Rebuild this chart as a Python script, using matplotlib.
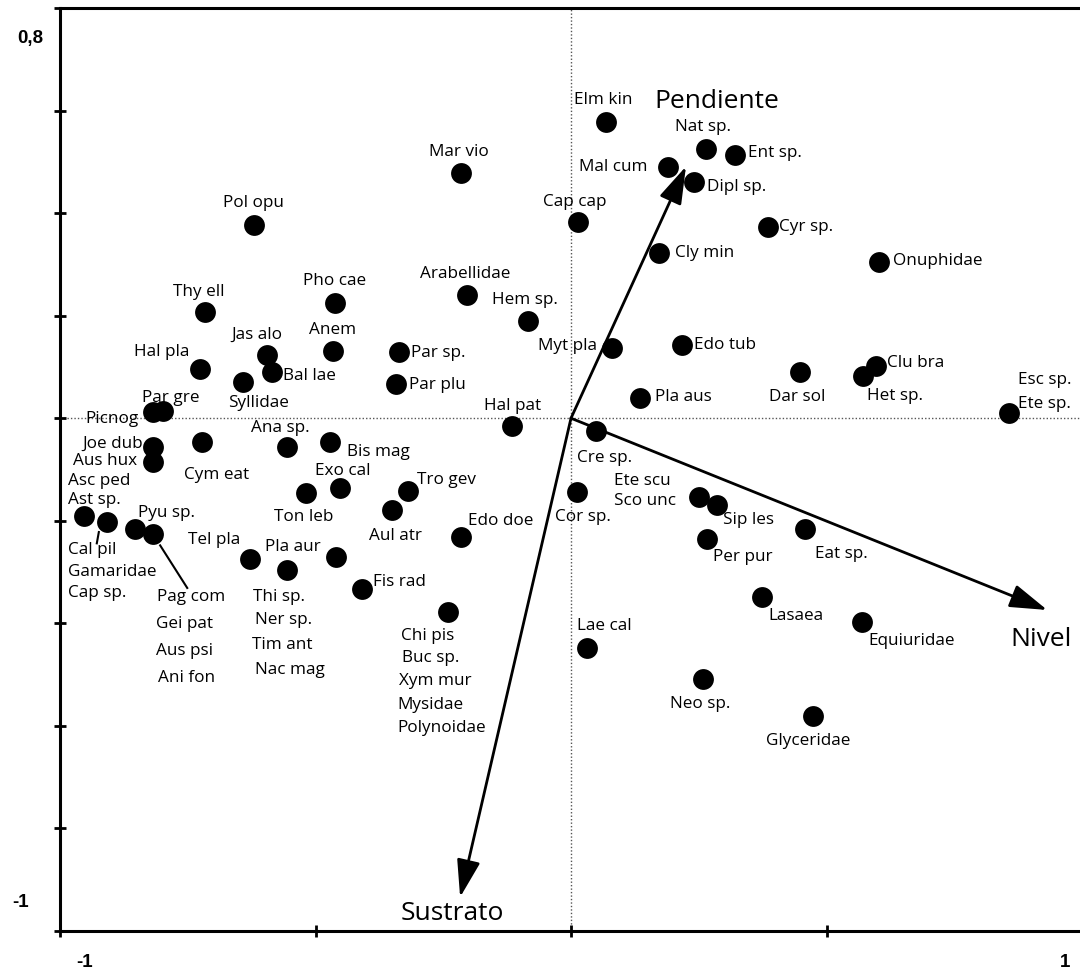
import matplotlib
matplotlib.use('Agg')
import matplotlib.pyplot as plt

# Puntos de especies (coordenadas del análisis)
esp_x = [-0.620, -0.716, -0.462, -0.215, -0.204, -0.084, -0.595, -0.585, -0.642, -0.466,
         -0.337, -0.342, -0.115, -0.726, -0.798, -0.818, -0.818, -0.818, -0.722, -0.953,
         -0.908, -0.853, -0.818, -0.556, -0.472, -0.452, -0.519, -0.628, -0.556, -0.460,
         -0.409, -0.319, -0.350, -0.215, -0.241, 0.049, 0.012, 0.031, 0.250, 0.286,
         0.266, 0.458, 0.374, 0.569, 0.258, 0.474, 0.135, 0.068, 0.264, 0.321,
         0.190, 0.241, 0.014, 0.386, 0.172, 0.603, 0.080, 0.217, 0.448, 0.597,
         0.571, 0.857]
esp_y = [0.376, 0.207, 0.224, 0.478, 0.240, 0.189, 0.123, 0.090, 0.070, 0.131,
         0.129, 0.066, -0.016, 0.096, 0.014, 0.012, -0.057, -0.086, -0.047, -0.191,
         -0.203, -0.216, -0.226, -0.057, -0.047, -0.136, -0.146, -0.275, -0.296, -0.271,
         -0.333, -0.142, -0.179, -0.232, -0.378, -0.025, -0.144, -0.448, -0.154, -0.170,
         -0.236, -0.216, -0.349, -0.398, -0.509, -0.581, 0.039, 0.577, 0.526, 0.513,
         0.489, 0.460, 0.382, 0.372, 0.322, 0.304, 0.136, 0.142, 0.090, 0.101,
         0.082, 0.010]

# Variables ambientales (vectores)
var_nombres = ['Pendiente', 'Nivel', 'Sustrato']
var_x = [0.225, 0.932, -0.217]
var_y = [0.491, -0.374, -0.934]

# Etiquetas: texto, x, y, alineación
etiquetas = [
    ('Pol opu', -0.622, 0.419, 'center'), ('Thy ell', -0.728, 0.246, 'center'),
    ('Pho cae', -0.462, 0.267, 'center'), ('Mar vio', -0.219, 0.519, 'center'),
    ('Arabellidae', -0.207, 0.281, 'center'), ('Hem sp.', -0.090, 0.230, 'center'),
    ('Jas alo', -0.614, 0.162, 'center'), ('Bal lae', -0.564, 0.082, 'left'),
    ('Syllidae', -0.611, 0.029, 'center'), ('Anem', -0.466, 0.173, 'center'),
    ('Par sp.', -0.313, 0.127, 'left'), ('Par plu', -0.317, 0.064, 'left'),
    ('Hal pat', -0.115, 0.023, 'center'), ('Hal pla', -0.746, 0.129, 'right'),
    ('Par gre', -0.783, 0.039, 'center'), ('Picnog', -0.847, -0.002, 'right'),
    ('Joe dub', -0.838, -0.049, 'right'), ('Aus hux', -0.849, -0.084, 'right'),
    ('Cym eat', -0.693, -0.111, 'center'), ('Asc ped', -0.984, -0.123, 'left'),
    ('Ast sp.', -0.984, -0.160, 'left'), ('Cal pil', -0.984, -0.257, 'left'),
    ('Gamaridae', -0.984, -0.300, 'left'), ('Cap sp.', -0.984, -0.341, 'left'),
    ('Pyu sp.', -0.847, -0.185, 'left'), ('Pag com', -0.810, -0.349, 'left'),
    ('Gei pat', -0.812, -0.402, 'left'), ('Aus psi', -0.812, -0.454, 'left'),
    ('Ani fon', -0.808, -0.507, 'left'), ('Ana sp.', -0.569, -0.019, 'center'),
    ('Bis mag', -0.438, -0.066, 'left'), ('Exo cal', -0.393, -0.103, 'right'),
    ('Ton leb', -0.524, -0.193, 'center'), ('Tel pla', -0.699, -0.238, 'center'),
    ('Pla aur', -0.544, -0.251, 'center'), ('Thi sp.', -0.622, -0.349, 'left'),
    ('Ner sp.', -0.618, -0.394, 'left'), ('Tim ant', -0.624, -0.442, 'left'),
    ('Nac mag', -0.618, -0.491, 'left'), ('Fis rad', -0.387, -0.320, 'left'),
    ('Tro gev', -0.301, -0.121, 'left'), ('Aul atr', -0.344, -0.230, 'center'),
    ('Edo doe', -0.202, -0.201, 'left'), ('Chi pis', -0.333, -0.425, 'left'),
    ('Buc sp.', -0.331, -0.468, 'left'), ('Xym mur', -0.337, -0.513, 'left'),
    ('Mysidae', -0.339, -0.559, 'left'), ('Polynoidae', -0.339, -0.604, 'left'),
    ('Cre sp.', 0.012, -0.078, 'left'), ('Cor sp.', 0.023, -0.193, 'center'),
    ('Lae cal', 0.012, -0.405, 'left'), ('Ete scu', 0.084, -0.123, 'left'),
    ('Sco unc', 0.084, -0.162, 'left'), ('Sip les', 0.297, -0.199, 'left'),
    ('Per pur', 0.278, -0.271, 'left'), ('Eat sp.', 0.477, -0.265, 'left'),
    ('Lasaea', 0.386, -0.386, 'left'), ('Equiuridae', 0.581, -0.435, 'left'),
    ('Neo sp.', 0.252, -0.558, 'center'), ('Glyceridae', 0.464, -0.630, 'center'),
    ('Pla aus', 0.164, 0.041, 'left'), ('Elm kin', 0.063, 0.620, 'center'),
    ('Nat sp.', 0.258, 0.567, 'center'), ('Ent sp.', 0.346, 0.517, 'left'),
    ('Mal cum', 0.149, 0.489, 'right'), ('Dipl sp.', 0.266, 0.450, 'left'),
    ('Cap cap', 0.008, 0.421, 'center'), ('Cyr sp.', 0.407, 0.372, 'left'),
    ('Cly min', 0.204, 0.322, 'left'), ('Onuphidae', 0.630, 0.306, 'left'),
    ('Myt pla', 0.051, 0.140, 'right'), ('Edo tub', 0.241, 0.142, 'left'),
    ('Dar sol', 0.442, 0.041, 'center'), ('Clu bra', 0.618, 0.107, 'left'),
    ('Het sp.', 0.579, 0.043, 'left'), ('Esc sp.', 0.875, 0.074, 'left'),
    ('Ete sp.', 0.875, 0.027, 'left'),
]
# posición de los nombres de las variables
var_etiquetas = [('Pendiente', 0.164, 0.618, 'left'), ('Nivel', 0.859, -0.431, 'left'),
                 ('Sustrato', -0.233, -0.965, 'center')]
# líneas guía
guias = [((-0.924, -0.928), (-0.222, -0.244)), ((-0.804, -0.751), (-0.248, -0.331))]

fig = plt.figure(figsize=(10.8, 9.73), dpi=100)
ax = fig.add_axes([60 / 1080, 42 / 973, 1022 / 1080, 923 / 973])
ax.set_xlim(-1, 1)
ax.set_ylim(-1, 0.8)

ax.axhline(0, color='#555555', lw=1, ls=(0, (1, 1.5)), zorder=1)
ax.axvline(0, color='#555555', lw=1, ls=(0, (1, 1.5)), zorder=1)

ax.scatter(esp_x, esp_y, s=225, color='black', zorder=3, linewidths=0)

for x, y in guias:
    ax.plot(x, y, color='black', lw=1.5, zorder=2)

for nom, vx, vy in zip(var_nombres, var_x, var_y):
    ax.annotate('', xy=(vx, vy), xytext=(0, 0),
                arrowprops=dict(arrowstyle='-|>,head_length=1.15,head_width=0.36',
                                mutation_scale=20, lw=2, color='black',
                                shrinkA=0, shrinkB=0), zorder=4)

for txt, x, y, ha in etiquetas:
    ax.text(x, y, txt, ha=ha, va='center', fontsize=12.3, family='Open Sans', zorder=5)
for txt, x, y, ha in var_etiquetas:
    ax.text(x, y, txt, ha=ha, va='center', fontsize=19, family='Open Sans', zorder=5)

ax.spines['right'].set_visible(False)
for s in ['left', 'bottom', 'top']:
    ax.spines[s].set_linewidth(2.2)
ax.set_xticks([-1, -0.5, 0, 0.5, 1])
ax.set_yticks([-1, -0.8, -0.6, -0.4, -0.2, 0, 0.2, 0.4, 0.6, 0.8])
ax.tick_params(direction='inout', length=8, width=2, labelbottom=False, labelleft=False)

# rótulos de los extremos de los ejes
rot = dict(fontsize=13.5, fontweight='bold', family='Liberation Sans', clip_on=False)
ax.text(-1.033, 0.741, '0,8', ha='right', va='center', **rot)
ax.text(-1.061, -0.945, '-1', ha='right', va='center', **rot)
ax.text(-0.951, -1.062, '-1', ha='center', va='center', **rot)
ax.text(0.967, -1.062, '1', ha='center', va='center', **rot)

fig.savefig('out.png', dpi=100)
